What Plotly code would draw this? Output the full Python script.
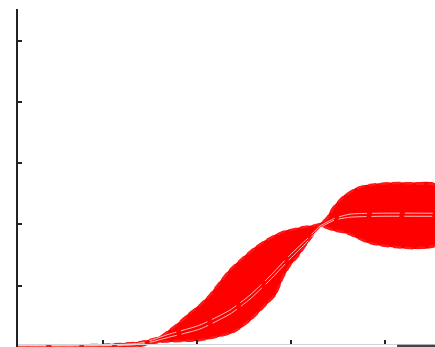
import plotly.graph_objects as go

# Envelope of the simulated trajectories (time step, response)
upper_t = [1.0, 5.46, 9.71, 11.84, 13.97, 16.09, 17.15, 18.22, 19.28, 20.34, 21.40,
           22.47, 23.53, 24.91, 26.19, 27.46, 29.16, 30.97, 32.35, 33.10, 33.84,
           34.48, 35.54, 37.03, 38.41, 40.53, 42.66, 45.31]
upper_y = [0.004, 0.004, 0.006, 0.009, 0.015, 0.032, 0.055, 0.081, 0.110, 0.136, 0.169,
           0.211, 0.251, 0.290, 0.323, 0.349, 0.375, 0.388, 0.395, 0.401, 0.421,
           0.453, 0.489, 0.518, 0.528, 0.534, 0.534, 0.531]

lower_t = [1.0, 9.71, 13.97, 16.09, 20.34, 23.85, 25.66, 27.46, 28.31, 29.16, 29.91,
           30.65, 31.71, 32.56, 33.10, 34.48, 35.97, 38.09, 39.47, 41.06, 42.97, 45.31]
lower_y = [0.001, 0.002, 0.003, 0.016, 0.022, 0.048, 0.087, 0.142, 0.169, 0.228, 0.267,
           0.293, 0.339, 0.375, 0.394, 0.381, 0.371, 0.342, 0.332, 0.326, 0.322, 0.329]

# Mean trajectories inside the band
mean_t = [1.0, 13.97, 17.15, 20.34, 23.53, 25.66, 27.78, 29.91, 31.71, 33.10, 34.69,
          36.28, 39.47, 45.31]
mean_a = [0.004, 0.012, 0.042, 0.071, 0.120, 0.169, 0.231, 0.300, 0.352, 0.394, 0.420,
          0.433, 0.436, 0.436]
mean_b = [0.003, 0.008, 0.032, 0.058, 0.107, 0.156, 0.218, 0.287, 0.342, 0.388, 0.414,
          0.423, 0.426, 0.426]

x_ticks = [10, 20, 30, 40]
y_ticks = [0.2, 0.4, 0.6, 0.8, 1.0]

RED = "#ff0000"

fig = go.Figure()

# filled band between the envelopes
fig.add_trace(go.Scatter(
    x=upper_t + lower_t[::-1], y=upper_y + lower_y[::-1],
    fill="toself", fillcolor=RED, mode="lines",
    line=dict(color=RED, width=1.5, shape="spline", smoothing=0.6),
    hoverinfo="skip", showlegend=False))

# dashed envelope edges
for ts, ys in ((upper_t, upper_y), (lower_t, lower_y)):
    fig.add_trace(go.Scatter(
        x=ts, y=ys, mode="lines",
        line=dict(color="#ff1a1a", width=2.5, dash="8px,4px", shape="spline", smoothing=0.6),
        showlegend=False))

# pale mean lines
for ys in (mean_a, mean_b):
    fig.add_trace(go.Scatter(
        x=mean_t, y=ys, mode="lines",
        line=dict(color="rgba(255,200,200,0.95)", width=1, dash="28px,5px",
                  shape="spline", smoothing=0.6),
        showlegend=False))

fig.update_layout(
    width=435, height=347,
    margin=dict(l=18, r=0, t=9, b=0),
    paper_bgcolor="white", plot_bgcolor="white",
    xaxis=dict(range=[1.0, 45.31], showgrid=False, zeroline=False,
               showline=True, linecolor="#d4d4d4", linewidth=1,
               anchor="free", position=0.0074,
               tickmode="array", tickvals=x_ticks, ticks="inside",
               ticklen=4, tickwidth=1.5, tickcolor="#222",
               showticklabels=False),
    yaxis=dict(range=[-0.0008, 1.1029], showgrid=False, zeroline=False,
               showline=True, linecolor="#222", linewidth=2,
               tickmode="array", tickvals=y_ticks, ticks="inside",
               ticklen=4, tickwidth=2, tickcolor="#222",
               showticklabels=False),
    shapes=[dict(type="rect", xref="paper", yref="paper",
                 x0=0.909, x1=1.0, y0=-0.01, y1=0.0068,
                 fillcolor="#444", line=dict(width=0), layer="above")],
)

fig.write_html("out.html")
